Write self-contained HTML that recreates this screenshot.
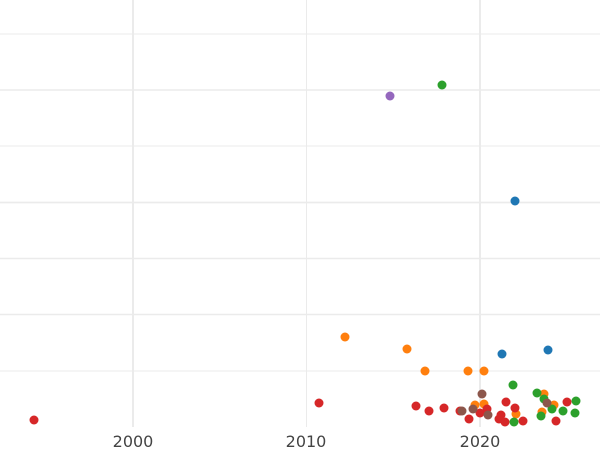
<!DOCTYPE html><html><head><style>body{margin:0;background:#fff}</style></head><body>
<svg width="600" height="450" xmlns="http://www.w3.org/2000/svg" style="display:block">
<g stroke="#ebebeb">
<line x1="0" x2="600" y1="34" y2="34" stroke-width="1"/>
<line x1="0" x2="600" y1="90" y2="90" stroke-width="1.5"/>
<line x1="0" x2="600" y1="146" y2="146" stroke-width="1"/>
<line x1="0" x2="600" y1="202.5" y2="202.5" stroke-width="1.8"/>
<line x1="0" x2="600" y1="258.5" y2="258.5" stroke-width="1.5"/>
<line x1="0" x2="600" y1="314.5" y2="314.5" stroke-width="1.5"/>
<line x1="0" x2="600" y1="371" y2="371" stroke-width="1"/>
<line x1="133" x2="133" y1="0" y2="427" stroke-width="2"/>
<line x1="306.5" x2="306.5" y1="0" y2="427" stroke-width="1"/>
<line x1="480" x2="480" y1="0" y2="427" stroke-width="2"/>
</g>
<g font-family="DejaVu Sans, sans-serif" font-size="16" fill="#444" text-anchor="middle">
<text x="133" y="447">2000</text><text x="306" y="447">2010</text><text x="480" y="447">2020</text>
</g>
<g r="4.5">
<g fill="#ff7f0e">
<circle cx="468" cy="371" r="4.5"/><circle cx="484" cy="371" r="4.5"/><circle cx="345" cy="337" r="4.5"/><circle cx="407" cy="349" r="4.5"/><circle cx="425" cy="371" r="4.5"/>
<circle cx="544" cy="394" r="4.5"/><circle cx="554" cy="405" r="4.5"/><circle cx="475" cy="405" r="4.5"/><circle cx="484" cy="404" r="4.5"/><circle cx="516" cy="414" r="4.5"/><circle cx="542" cy="412" r="4.5"/>
</g>
<g fill="#d62728">
<circle cx="34" cy="420" r="4.5"/><circle cx="319" cy="403" r="4.5"/><circle cx="416" cy="406" r="4.5"/><circle cx="429" cy="411" r="4.5"/>
<circle cx="567" cy="402" r="4.5"/><circle cx="444" cy="408" r="4.5"/><circle cx="460" cy="411" r="4.5"/><circle cx="469" cy="419" r="4.5"/><circle cx="480" cy="413" r="4.5"/><circle cx="487" cy="409" r="4.5"/>
<circle cx="506" cy="402" r="4.5"/><circle cx="515" cy="408" r="4.5"/><circle cx="501" cy="415" r="4.5"/><circle cx="499" cy="419" r="4.5"/><circle cx="505" cy="422" r="4.5"/><circle cx="523" cy="421" r="4.5"/><circle cx="556" cy="421" r="4.5"/>
</g>
<g fill="#2ca02c">
<circle cx="442" cy="85" r="4.5"/><circle cx="513" cy="385" r="4.5"/><circle cx="537" cy="393" r="4.5"/><circle cx="544" cy="399" r="4.5"/><circle cx="576" cy="401" r="4.5"/>
<circle cx="514" cy="422" r="4.5"/><circle cx="541" cy="416" r="4.5"/><circle cx="552" cy="409" r="4.5"/><circle cx="563" cy="411" r="4.5"/><circle cx="575" cy="413" r="4.5"/>
</g>
<g fill="#8c564b">
<circle cx="547" cy="403" r="4.5"/><circle cx="462" cy="411" r="4.5"/><circle cx="473" cy="409" r="4.5"/><circle cx="488" cy="415" r="4.5"/><circle cx="482" cy="394" r="4.5"/>
</g>
<g fill="#1f77b4">
<circle cx="502" cy="354" r="4.5"/><circle cx="548" cy="350" r="4.5"/><circle cx="515" cy="201" r="4.5"/>
</g>
<circle cx="390" cy="96" r="4.5" fill="#9467bd"/>
</g>
</svg>
</body></html>
